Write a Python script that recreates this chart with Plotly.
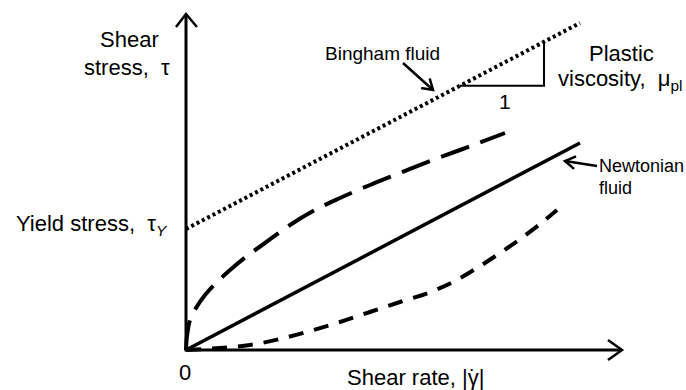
import plotly.graph_objects as go

# ---- data (arbitrary units: origin at the axes' corner) ----
bingham_x = [0, 394]
bingham_y = [121, 327]

newton_x = [0, 394]
newton_y = [0, 207]

thin_x = [0, 1, 4, 10, 19, 29, 44, 61, 79, 104, 129, 154, 184, 214, 244, 274, 319]
thin_y = [0, 14, 30, 42, 55, 66, 80, 94, 107, 125, 140, 152, 165, 177, 189, 200, 217]

thick_x = [0, 34, 64, 94, 124, 154, 184, 214, 242, 267, 291, 314, 337, 359, 371]
thick_y = [0, 2, 5, 11, 19, 28, 38, 48, 57, 68, 82, 97, 113, 130, 140]

# axis extents
x_axis_end = 436
y_axis_end = 336

# slope triangle run (x positions on the Bingham line)
tri_x0, tri_x1 = 274, 358

# label pointer arrows: [shaft start, tip]
bingham_ptr_x = [217, 247]
bingham_ptr_y = [287, 260]
newton_ptr_x = [411, 379]
newton_ptr_y = [184, 189]

BLACK = "black"
fig = go.Figure()

def add_line(x, y, width=3, dash="solid", shape="linear"):
    fig.add_trace(go.Scatter(x=x, y=y, mode="lines", hoverinfo="skip",
                             line=dict(color=BLACK, width=width, dash=dash, shape=shape)))

# axes with open arrowheads
ah = 13
add_line([0, 0, x_axis_end], [y_axis_end, 0, 0], width=3)
add_line([-10, 0, 11], [y_axis_end - ah, y_axis_end, y_axis_end - ah], width=2.5)
add_line([x_axis_end - 14, x_axis_end, x_axis_end - 14], [10, 0, -10], width=2.5)

# curves
add_line(bingham_x, bingham_y, width=4, dash="3px,3px")
add_line(newton_x, newton_y, width=3.5)
add_line(thin_x, thin_y, width=4, dash="30px,12px", shape="spline")
add_line(thick_x, thick_y, width=4, dash="15px,11px", shape="spline")

# slope triangle
slope = (bingham_y[1] - bingham_y[0]) / (bingham_x[1] - bingham_x[0])
yb0 = bingham_y[0] + slope * tri_x0
yb1 = bingham_y[0] + slope * tri_x1
add_line([tri_x0, tri_x1, tri_x1], [yb0, yb0, yb1], width=2)

# pointer arrows
def pointer(px, py, head=12):
    import math
    add_line(px, py, width=2.5)
    dx, dy = px[1] - px[0], py[1] - py[0]
    L = math.hypot(dx, dy)
    ux, uy = dx / L, dy / L
    ang = math.radians(32)
    hx, hy = [], []
    for s in (1, -1):
        c, sn = math.cos(s * ang), math.sin(s * ang)
        rx = -(ux * c - uy * sn)
        ry = -(ux * sn + uy * c)
        hx.append(px[1] + head * rx)
        hy.append(py[1] + head * ry)
    add_line([hx[0], px[1], hx[1]], [hy[0], py[1], hy[1]], width=2.5)

pointer(bingham_ptr_x, bingham_ptr_y)
pointer(newton_ptr_x, newton_ptr_y)

MAIN = "Liberation Sans, Arial, sans-serif"
def label(x, y, text, size=22, xanchor="center", align="center"):
    fig.add_annotation(x=x, y=y, text=text, showarrow=False, xanchor=xanchor,
                       yanchor="middle", align=align,
                       font=dict(family=MAIN, size=size, color=BLACK))

label(-57, 311, "Shear")
label(-59, 283, "stress,  τ")
label(-16, 125, "Yield stress,  τ<sub><i>Y</i></sub>", xanchor="right")
label(-1, -22, "0")
label(229, -27, "Shear rate, |γ|")
label(286, -27, "˙")   # dot above the gamma (time derivative)
label(319, 249, "1", size=21)
label(435, 297, "Plastic")
label(434, 270, "viscosity,  μ<sub>pl</sub>")
label(196, 297, "Bingham fluid", size=19)
label(411, 184, "Newtonian", size=18, xanchor="left", align="left")
label(411, 162, "fluid", size=18, xanchor="left", align="left")

fig.update_layout(
    width=686, height=390,
    margin=dict(l=0, r=0, t=0, b=0),
    paper_bgcolor="white", plot_bgcolor="white",
    showlegend=False,
    xaxis=dict(range=[-186, 500], visible=False, fixedrange=True),
    yaxis=dict(range=[-40, 350], visible=False, fixedrange=True),
)

fig.write_html("out.html")
